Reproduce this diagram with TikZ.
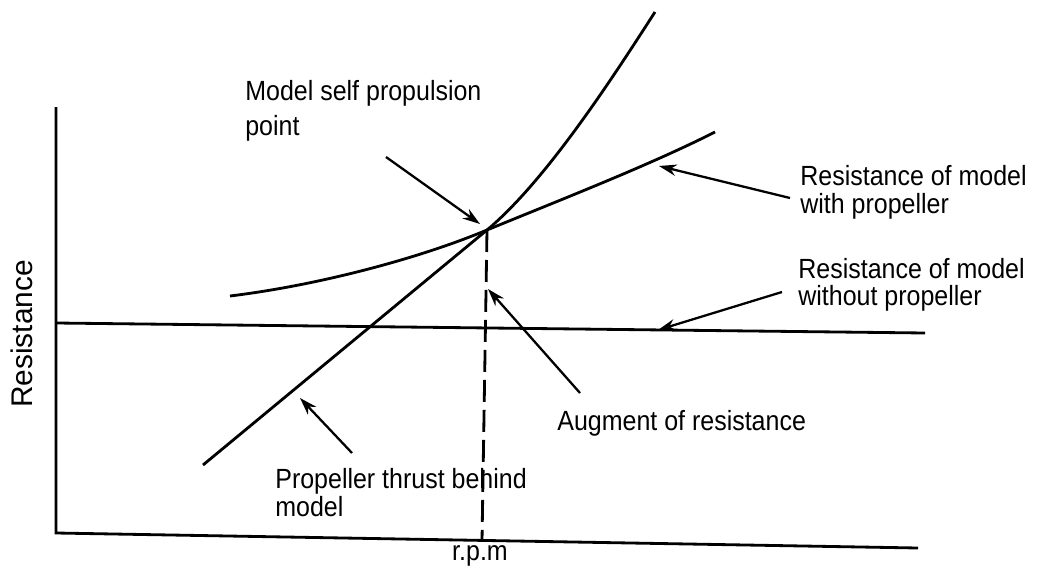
\documentclass[tikz,border=0pt]{standalone}
\usepackage{fontspec}
\setmainfont{Liberation Sans}[FakeStretch=0.9]
\newfontfamily\axisfont{Liberation Sans}
\usetikzlibrary{arrows.meta}
\usetikzlibrary{positioning}

\tikzset{
  curve/.style={line width=1.6pt},
  pointer/.style={line width=1.3pt,-{Stealth[length=10pt,width=6.5pt]}},
  lbl/.style={anchor=north west,inner sep=0pt,align=left},
}

\begin{document}
\begin{tikzpicture}[x=0.02cm,y=-0.02cm]
  \useasboundingbox (0,0) rectangle (1037,571);

  % axes
  \coordinate (top) at (56,107);
  \coordinate (o) at (56,533);
  \coordinate (xend) at (918,548);
  \draw[curve] (top) -- (o) -- (xend);
  \node[rotate=90,inner sep=0pt,font=\axisfont\fontsize{17}{20}\selectfont] (ylab) at (22,334) {Resistance};
  \node[anchor=base,inner sep=0pt,font=\fontsize{15.8}{17}\selectfont] (xlab) at (480,560) {r.p.m};

  % resistance without propeller
  \coordinate (wl) at (56,323);
  \coordinate (wr) at (925,333);
  \draw[curve] (wl) -- (wr);

  % thrust and resistance with propeller, meeting at the self propulsion point
  \coordinate (sp) at (487,230);
  \coordinate (foot) at (482,541);
  \draw[curve] (203,465) -- (sp) .. controls (547,180) and (615,74) .. (655,12);
  \draw[curve] (230,296) .. controls (320,285) and (420,258) .. (sp)
                         .. controls (560,200) and (650,165) .. (715,132);
  \draw[curve,dash pattern=on 0.44cm off 0.16cm] (sp) -- (foot);

  % labels
  \node[lbl,font=\fontsize{15.8}{19.9}\selectfont] (selfprop) at (245,80) {Model self propulsion\\point};
  \node[lbl,font=\fontsize{15.8}{15.9}\selectfont] (withprop) at (800,165) {Resistance of model\\with propeller};
  \node[lbl,font=\fontsize{15.8}{15.4}\selectfont] (withoutprop) at (798,258) {Resistance of model\\without propeller};
  \node[lbl,font=\fontsize{15.8}{17}\selectfont] (augment) at (557,410) {Augment of resistance};
  \node[lbl,font=\fontsize{15.8}{14.2}\selectfont] (thrust) at (275,468) {Propeller thrust behind\\model};

  % pointers
  \coordinate (a1) at (386,157);  \coordinate (t1) at (480,224);
  \coordinate (a2) at (790,198);  \coordinate (t2) at (659,166);
  \coordinate (a3) at (782,292);  \coordinate (t3) at (658,330);
  \coordinate (a4) at (580,393);  \coordinate (t4) at (488,289);
  \coordinate (a5) at (352,453);  \coordinate (t5) at (300,398);
  \draw[pointer] (a1) -- (t1);
  \draw[pointer] (a2) -- (t2);
  \draw[pointer] (a3) -- (t3);
  \draw[pointer] (a4) -- (t4);
  \draw[pointer] (a5) -- (t5);
\end{tikzpicture}
\end{document}
